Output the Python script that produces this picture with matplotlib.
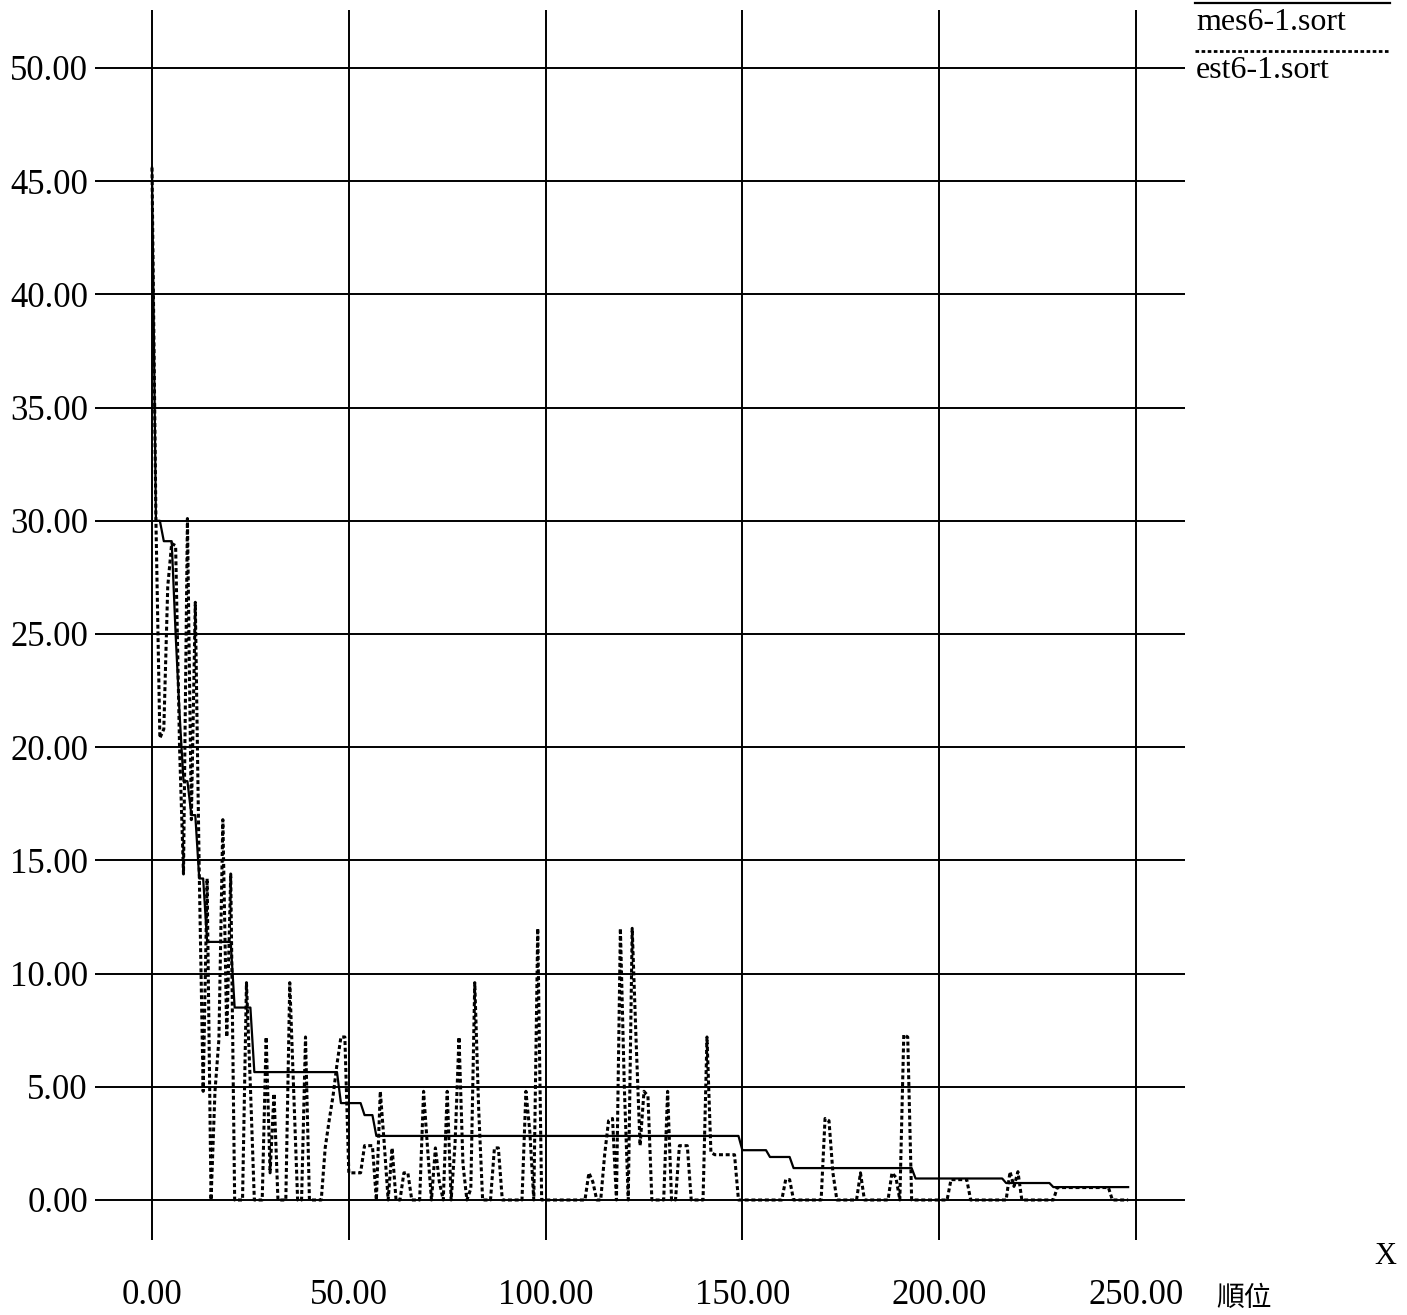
import numpy as np
import matplotlib
matplotlib.use("Agg")
import matplotlib.pyplot as plt
from matplotlib.lines import Line2D

# measured values, sorted in descending order (step levels and how many ranks each covers)
mes_levels = [45.6, 30.0, 29.1, 25.0, 21.5, 18.5, 17.0, 14.2, 11.4, 8.5,
              5.65, 4.28, 3.75, 2.83, 2.2, 1.9, 1.41, 0.95, 0.75, 0.57]
mes_runs = [1, 2, 3, 1, 1, 2, 2, 2, 7, 5,
            22, 6, 3, 93, 7, 6, 31, 23, 12, 20]

# estimated values at the same ranks
est_values = [
    45.6, 30.0, 20.4, 20.8, 27.1, 29.0, 28.9, 20.0, 14.4, 30.1,
    16.8, 26.4, 14.5, 4.8, 14.2, 0.0, 4.8, 7.1, 16.8, 7.2,
    14.4, 0.0, 0.0, 0.0, 9.6, 5.0, 0.0, 0.0, 0.0, 7.2,
    1.2, 4.7, 0.0, 0.0, 0.0, 9.6, 4.8, 0.0, 0.0, 7.2,
    0.0, 0.0, 0.0, 0.0, 2.3, 3.5, 4.6, 6.0, 7.2, 7.2,
    1.2, 1.2, 1.2, 1.2, 2.4, 2.4, 2.4, 0.0, 4.8, 2.5,
    0.0, 2.3, 0.0, 0.0, 1.2, 1.2, 0.0, 0.0, 0.0, 4.8,
    2.3, 0.0, 2.3, 0.8, 0.0, 4.8, 0.0, 2.5, 7.2, 1.6,
    0.0, 0.5, 9.6, 4.0, 0.0, 0.0, 0.0, 2.3, 2.3, 0.0,
    0.0, 0.0, 0.0, 0.0, 0.0, 4.8, 3.0, 0.0, 12.0, 0.0,
    0.0, 0.0, 0.0, 0.0, 0.0, 0.0, 0.0, 0.0, 0.0, 0.0,
    0.0, 1.2, 0.8, 0.0, 0.0, 2.0, 3.5, 3.6, 0.0, 12.0,
    5.0, 0.0, 12.0, 7.0, 2.4, 4.8, 4.6, 0.0, 0.0, 0.0,
    0.0, 4.8, 0.0, 0.0, 2.4, 2.4, 2.4, 0.0, 0.0, 0.0,
    0.0, 7.2, 2.1, 2.0, 2.0, 2.0, 2.0, 2.0, 2.0, 0.0,
    0.0, 0.0, 0.0, 0.0, 0.0, 0.0, 0.0, 0.0, 0.0, 0.0,
    0.0, 0.9, 0.9, 0.0, 0.0, 0.0, 0.0, 0.0, 0.0, 0.0,
    0.0, 3.6, 3.5, 1.2, 0.0, 0.0, 0.0, 0.0, 0.0, 0.0,
    1.2, 0.0, 0.0, 0.0, 0.0, 0.0, 0.0, 0.0, 1.2, 1.0,
    0.0, 7.3, 7.2, 0.0, 0.0, 0.0, 0.0, 0.0, 0.0, 0.0,
    0.0, 0.0, 0.0, 0.9, 0.9, 0.9, 0.9, 0.9, 0.0, 0.0,
    0.0, 0.0, 0.0, 0.0, 0.0, 0.0, 0.0, 0.0, 1.25, 0.6,
    1.25, 0.0, 0.0, 0.0, 0.0, 0.0, 0.0, 0.0, 0.0, 0.0,
    0.55, 0.55, 0.55, 0.55, 0.55, 0.55, 0.55, 0.55, 0.55, 0.55,
    0.55, 0.55, 0.55, 0.55, 0.0, 0.0, 0.0, 0.0, 0.0,
]

x_ticks = [0, 50, 100, 150, 200, 250]
y_ticks = [0, 5, 10, 15, 20, 25, 30, 35, 40, 45, 50]
series_names = ["mes6-1.sort", "est6-1.sort"]
x_name = "順位"
y_name = "X"

mes_values = np.repeat(mes_levels, mes_runs)
rank = np.arange(len(mes_values))

W, H = 1407, 1315
serif = ["Liberation Serif", "DejaVu Serif"]

fig = plt.figure(figsize=(W / 100, H / 100), dpi=100)
fig.patch.set_facecolor("white")

ax_left, ax_right, ax_top, ax_bottom = 95, 1185, 10, 1240
ax = fig.add_axes([ax_left / W, 1 - ax_bottom / H,
                   (ax_right - ax_left) / W, (ax_bottom - ax_top) / H])

px_per_x = (1136 - 152) / 250.0
px_per_y = (1200 - 68) / 50.0
ax.set_xlim((ax_left - 152) / px_per_x, (ax_right - 152) / px_per_x)
ax.set_ylim((1200 - ax_bottom) / px_per_y, (1200 - ax_top) / px_per_y)

for s in ax.spines.values():
    s.set_visible(False)

ax.set_xticks(x_ticks)
ax.set_yticks(y_ticks)
ax.set_xticklabels([f"{v:.2f}" for v in x_ticks])
ax.set_yticklabels([f"{v:.2f}" for v in y_ticks])
ax.tick_params(axis="both", length=0, labelsize=25)
ax.tick_params(axis="x", pad=28)
ax.tick_params(axis="y", pad=5)
for lab in ax.get_xticklabels() + ax.get_yticklabels():
    lab.set_fontfamily(serif)
ax.grid(True, color="black", linewidth=1.4)
ax.set_axisbelow(True)

ax.plot(rank, mes_values, color="black", linewidth=1.6, zorder=3)
ax.plot(rank, est_values, color="black", linewidth=2.2,
        linestyle=(0, (1.3, 0.9)), zorder=4)

# legend block in the upper right corner
def fx(px):
    return px / W

def fy(py):
    return 1 - py / H

fig.add_artist(Line2D([fx(1195), fx(1390)], [fy(3), fy(3)],
                      color="black", linewidth=1.6))
fig.text(fx(1196), fy(8), series_names[0], fontsize=23, family=serif,
         ha="left", va="top")
fig.add_artist(Line2D([fx(1195), fx(1390)], [fy(51), fy(51)],
                      color="black", linewidth=2.0, linestyle=(0, (1.3, 0.9))))
fig.text(fx(1196), fy(56), series_names[1], fontsize=23, family=serif,
         ha="left", va="top")

fig.text(fx(1385), fy(1257), y_name, fontsize=22, family=serif,
         ha="center", va="center")
fig.text(fx(1244), fy(1298), x_name, fontsize=20,
         family=["Noto Sans CJK TC", "DejaVu Sans"],
         ha="center", va="center")

fig.savefig("out.png", dpi=100, facecolor="white")
